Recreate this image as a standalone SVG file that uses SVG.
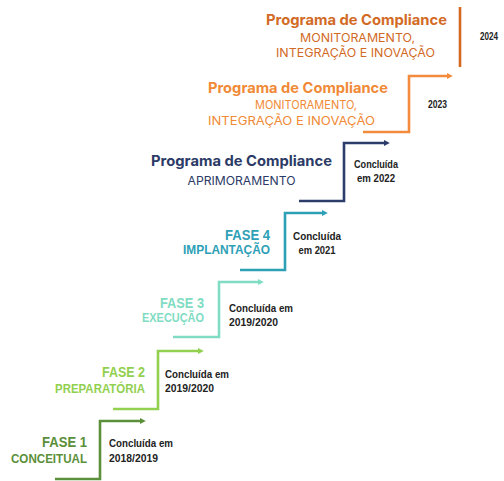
<svg xmlns="http://www.w3.org/2000/svg" width="504" height="481" viewBox="0 0 504 481">
  <style>
    .fase { font-family: "Liberation Sans", Arial, sans-serif; font-weight: bold; text-anchor: end; }
    .fase .t { font-size: 15px; }
    .fase .s { font-size: 12.5px; }
    .note { font-family: "Liberation Sans", Arial, sans-serif; font-weight: bold; font-size: 10.5px; fill: #222222; }
    .prog { font-family: Inter, "Liberation Sans", sans-serif; text-anchor: middle; }
    .prog .t { font-size: 14.5px; font-weight: bold; }
    .prog .s { font-size: 12px; font-weight: normal; }
    .step { fill: none; stroke-width: 2.6; stroke-linejoin: miter; stroke-linecap: butt; }
  </style>
  <defs>
    <marker id="a1" viewBox="0 0 10 10" refX="2" refY="5" markerWidth="6" markerHeight="6" markerUnits="userSpaceOnUse" orient="auto"><path d="M0,0 L10,5 L0,10 z" fill="#5b8f3a"/></marker>
    <marker id="a2" viewBox="0 0 10 10" refX="2" refY="5" markerWidth="6" markerHeight="6" markerUnits="userSpaceOnUse" orient="auto"><path d="M0,0 L10,5 L0,10 z" fill="#92d050"/></marker>
    <marker id="a3" viewBox="0 0 10 10" refX="2" refY="5" markerWidth="6" markerHeight="6" markerUnits="userSpaceOnUse" orient="auto"><path d="M0,0 L10,5 L0,10 z" fill="#80dcc3"/></marker>
    <marker id="a4" viewBox="0 0 10 10" refX="2" refY="5" markerWidth="6" markerHeight="6" markerUnits="userSpaceOnUse" orient="auto"><path d="M0,0 L10,5 L0,10 z" fill="#2ea0b6"/></marker>
    <marker id="a5" viewBox="0 0 10 10" refX="2" refY="5" markerWidth="6" markerHeight="6" markerUnits="userSpaceOnUse" orient="auto"><path d="M0,0 L10,5 L0,10 z" fill="#2d3d6b"/></marker>
    <marker id="a6" viewBox="0 0 10 10" refX="2" refY="5" markerWidth="6" markerHeight="6" markerUnits="userSpaceOnUse" orient="auto"><path d="M0,0 L10,5 L0,10 z" fill="#f38b3c"/></marker>
  </defs>

  <rect width="504" height="481" fill="#ffffff"/>

  <!-- staircase connectors -->
  <g id="connectors">
    <path class="step" stroke="#5b8f3a" d="M55,479 H100 V421 H141" marker-end="url(#a1)"/>
    <path class="step" stroke="#92d050" d="M113,409 H158 V351 H199" marker-end="url(#a2)"/>
    <path class="step" stroke="#80dcc3" d="M173,337 H219 V282 H259" marker-end="url(#a3)"/>
    <path class="step" stroke="#2ea0b6" d="M240,270 H285 V213 H323" marker-end="url(#a4)"/>
    <path class="step" stroke="#2d3d6b" d="M299,201 H344 V143 H385" marker-end="url(#a5)"/>
    <path class="step" stroke="#f38b3c" d="M363,132 H409 V76 H448" marker-end="url(#a6)"/>
    <path class="step" stroke="#d3691f" d="M460,7 V67"/>
  </g>

  <g id="fase1">
    <g class="fase" fill="#5b8f3a">
      <text class="t" x="87" y="447" textLength="45" lengthAdjust="spacingAndGlyphs">FASE 1</text>
      <text class="s" x="87" y="463" textLength="76" lengthAdjust="spacingAndGlyphs">CONCEITUAL</text>
    </g>
    <text class="note" x="109" y="447" textLength="64" lengthAdjust="spacingAndGlyphs">Concluída em</text>
    <text class="note" x="109" y="462" textLength="49" lengthAdjust="spacingAndGlyphs">2018/2019</text>
  </g>

  <g id="fase2">
    <g class="fase" fill="#92d050">
      <text class="t" x="145" y="377" textLength="43" lengthAdjust="spacingAndGlyphs">FASE 2</text>
      <text class="s" x="145" y="393" textLength="90" lengthAdjust="spacingAndGlyphs">PREPARATÓRIA</text>
    </g>
    <text class="note" x="165" y="378" textLength="64" lengthAdjust="spacingAndGlyphs">Concluída em</text>
    <text class="note" x="165" y="392" textLength="49" lengthAdjust="spacingAndGlyphs">2019/2020</text>
  </g>

  <g id="fase3">
    <g class="fase" fill="#80dcc3">
      <text class="t" x="204" y="308" textLength="44" lengthAdjust="spacingAndGlyphs">FASE 3</text>
      <text class="s" x="204" y="322" textLength="62" lengthAdjust="spacingAndGlyphs">EXECUÇÃO</text>
    </g>
    <text class="note" x="229" y="312" textLength="64" lengthAdjust="spacingAndGlyphs">Concluída em</text>
    <text class="note" x="229" y="326" textLength="49" lengthAdjust="spacingAndGlyphs">2019/2020</text>
  </g>

  <g id="fase4">
    <g class="fase" fill="#2ea0b6">
      <text class="t" x="270" y="240" textLength="45" lengthAdjust="spacingAndGlyphs">FASE 4</text>
      <text class="s" x="270" y="254" textLength="87" lengthAdjust="spacingAndGlyphs">IMPLANTAÇÃO</text>
    </g>
    <text class="note" x="317" y="240" text-anchor="middle" textLength="48" lengthAdjust="spacingAndGlyphs">Concluída</text>
    <text class="note" x="317" y="254" text-anchor="middle" textLength="37" lengthAdjust="spacingAndGlyphs">em 2021</text>
  </g>

  <g id="aprimoramento">
    <g class="prog" fill="#2b3a66">
      <text class="t" x="241.5" y="166" textLength="181" lengthAdjust="spacingAndGlyphs">Programa de Compliance</text>
      <text class="s" x="241.5" y="185" textLength="108" lengthAdjust="spacingAndGlyphs">APRIMORAMENTO</text>
    </g>
    <text class="note" x="376" y="168" text-anchor="middle" textLength="44" lengthAdjust="spacingAndGlyphs">Concluída</text>
    <text class="note" x="376" y="182" text-anchor="middle" textLength="38" lengthAdjust="spacingAndGlyphs">em 2022</text>
  </g>

  <g id="monitoramento-2023">
    <g class="prog" fill="#f08a36">
      <text class="t" x="298" y="93" textLength="180" lengthAdjust="spacingAndGlyphs">Programa de Compliance</text>
      <text class="s" x="306" y="109" textLength="102" lengthAdjust="spacingAndGlyphs">MONITORAMENTO,</text>
      <text class="s" x="291.5" y="125" textLength="167" lengthAdjust="spacingAndGlyphs">INTEGRAÇÃO E INOVAÇÃO</text>
    </g>
    <text class="note" x="428" y="108" font-size="8.5" textLength="19" lengthAdjust="spacingAndGlyphs">2023</text>
  </g>

  <g id="monitoramento-2024">
    <g class="prog" fill="#d26a25">
      <text class="t" x="356.5" y="25" textLength="181" lengthAdjust="spacingAndGlyphs">Programa de Compliance</text>
      <text class="s" x="357.5" y="42" textLength="115" lengthAdjust="spacingAndGlyphs" font-size="12.5">MONITORAMENTO,</text>
      <text class="s" x="355.5" y="57" textLength="159" lengthAdjust="spacingAndGlyphs" font-size="12.5">INTEGRAÇÃO E INOVAÇÃO</text>
    </g>
    <text class="note" x="480" y="40" font-size="8.5" textLength="18" lengthAdjust="spacingAndGlyphs">2024</text>
  </g>
</svg>
